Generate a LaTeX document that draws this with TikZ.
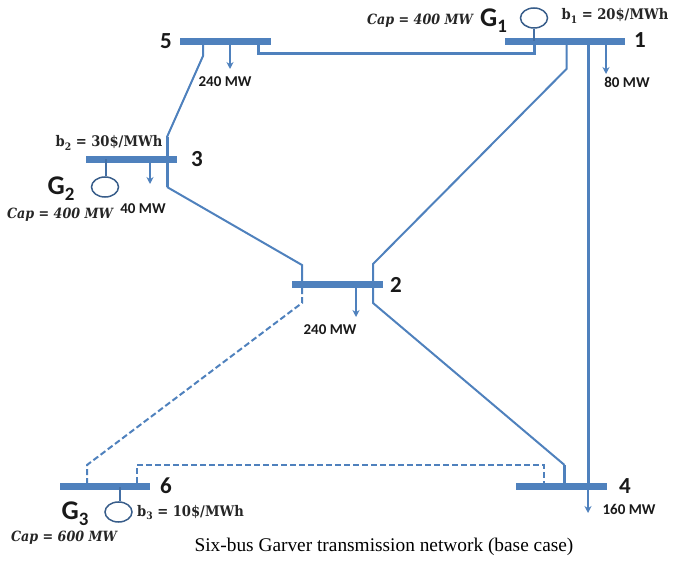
\documentclass[tikz,border=0pt]{standalone}
\usepackage{fontspec}
\setmainfont{Liberation Serif}
\newfontfamily\busfont{Carlito}
\newfontfamily\eqfont{DejaVu Serif Condensed}
\definecolor{busblue}{HTML}{4F81BD}
\definecolor{genblue}{HTML}{385D8A}
\newcommand{\sbs}[1]{\raisebox{-0.22em}{\scalebox{0.7}{#1}}}
\tikzset{
  busbar/.style={fill=busblue,draw=none,inner sep=0pt,minimum height=7pt},
  lineA/.style={draw=busblue,line width=2pt},
  lineB/.style={draw=busblue,line width=3pt},
  dashline/.style={draw=busblue,line width=2pt,dash pattern=on 6pt off 3pt},
  loadarrow/.style={draw=busblue,line width=1.2pt,-{Stealth[length=7pt,width=7pt]}},
  gen/.style={ellipse,draw=genblue,line width=1.5pt,minimum width=27pt,minimum height=20pt,inner sep=0pt},
  stem/.style={draw=genblue!50!busblue,line width=2.8pt},
  busnum/.style={font=\busfont\bfseries\fontsize{23}{25}\selectfont,text=black!90,inner sep=0pt},
  gname/.style={font=\busfont\bfseries\fontsize{27}{29}\selectfont,text=black!90,inner sep=0pt},
  mw/.style={font=\busfont\bfseries\fontsize{15}{17}\selectfont,text=black!90,inner sep=0pt},
  eq/.style={font=\eqfont\bfseries\fontsize{14.6}{16}\selectfont,text=black!85,inner sep=0pt},
  capt/.style={font=\eqfont\bfseries\itshape\fontsize{14.1}{16}\selectfont,text=black!85,inner sep=0pt},
  caption/.style={font=\fontsize{19.35}{22}\selectfont,inner sep=0pt}
}
\usetikzlibrary{shapes.geometric,arrows.meta}
\begin{document}
\begin{tikzpicture}[x=1pt,y=-1pt]
\useasboundingbox (0,0) rectangle (675,561);
% buses
\node[busbar,minimum width=91pt] (b5) at (225.5,41.5) {};
\node[busbar,minimum width=120pt] (b1) at (565,41.5) {};
\node[busbar,minimum width=91pt] (b3) at (131.5,159.5) {};
\node[busbar,minimum width=91pt] (b2) at (337.5,284.5) {};
\node[busbar,minimum width=90pt] (b6) at (105,486.5) {};
\node[busbar,minimum width=91pt] (b4) at (561.5,486.5) {};
% generators
\node[gen] (g1) at (534,18) {};
\node[gen] (g2) at (105,187) {};
\node[gen] (g3) at (118.5,512) {};
\draw[stem] (g1.south) -- (g1.south |- b1.center);
\draw[stem] (g2.north -| 106,0) -- (b3.center -| 106,0);
\draw[stem] (g3.north -| 120,0) -- (b6.center -| 120,0);
% bend points
\coordinate (k51a) at (258,54);
\coordinate (k51b) at (534,54);
\coordinate (k53a) at (203,56);
\coordinate (k53b) at (167,137);
\coordinate (k32a) at (167,187);
\coordinate (k32b) at (302,265);
\coordinate (k26a) at (302,303);
\coordinate (k26b) at (87,465);
\coordinate (k64a) at (137,465);
\coordinate (k64b) at (544,465);
\coordinate (k21a) at (373,264);
\coordinate (k21b) at (566.5,69);
\coordinate (k24a) at (373,303);
\coordinate (k24b) at (564.5,465);
\coordinate (k14) at (588,100);
% lines
\draw[lineB,line join=miter] (b5.center -| k51a) -- (k51a) -- (k51b) -- (b1.center -| k51b);
\draw[lineA] (b5.center -| k53a) -- (k53a) -- (k53b) -- (b3.center -| k53b);
\draw[lineB] (k53b) -- (k32a);
\draw[lineA] (k32a) -- (k32b) -- (b2.center -| k32b);
\draw[dashline] (b2.south -| k26a) -- (k26a) -- (k26b) -- (b6.north -| k26b);
\draw[dashline] (b6.north -| k64a) -- (k64a) -- (k64b) -- (b4.north -| k64b);
\draw[lineA] (b2.center -| k21a) -- (k21a) -- (k21b) -- (b1.center -| k21b);
\draw[lineA] (b2.center -| k24a) -- (k24a) -- (k24b);
\draw[lineB] (k24b) -- (b4.center -| k24b);
\draw[lineB] (b1.center -| k14) -- (b4.center -| k14);
% loads
\coordinate (l5) at (230,69);
\coordinate (l1) at (606,74);
\coordinate (l3) at (150,184);
\coordinate (l2) at (356,317);
\coordinate (l4) at (588,513);
\draw[loadarrow] (b5.center -| l5) -- (l5);
\draw[loadarrow] (b1.center -| l1) -- (l1);
\draw[loadarrow] (b3.center -| l3) -- (l3);
\draw[loadarrow] (b2.center -| l2) -- (l2);
\draw[loadarrow] (b4.center -| l4) -- (l4);
% bus numbers
\node[busnum] (n5) at (166,41) {5};
\node[busnum] (n1) at (640,40) {1};
\node[busnum] (n3) at (197,159.5) {3};
\node[busnum] (n2) at (396,284.5) {2};
\node[busnum] (n6) at (166,486) {6};
\node[busnum] (n4) at (625,486) {4};
% generator names
\node[gname] (t1) at (493.5,21) {G\sbs{1}};
\node[gname] (t2) at (61,189) {G\sbs{2}};
\node[gname] (t3) at (75,514) {G\sbs{3}};
% load labels
\node[mw] (m5) at (225,82) {240 MW};
\node[mw] (m1) at (627,82) {80 MW};
\node[mw] (m3) at (143,209) {40 MW};
\node[mw] (m2) at (330,330) {240 MW};
\node[mw] (m4) at (629,509) {160 MW};
% equations
\node[eq] (e1) at (615,16) {b\sbs{1} = 20\$/MWh};
\node[eq] (e2) at (109,143) {b\sbs{2} = 30\$/MWh};
\node[eq] (e3) at (190.5,512.5) {b\sbs{3} = 10\$/MWh};
\node[capt] (c1) at (420,20.5) {Cap = 400 MW};
\node[capt] (c2) at (60,215) {Cap = 400 MW};
\node[capt] (c3) at (64,538) {Cap = 600 MW};
\node[caption] (cap) at (384,547) {Six-bus Garver transmission network (base case)};
\end{tikzpicture}
\end{document}
